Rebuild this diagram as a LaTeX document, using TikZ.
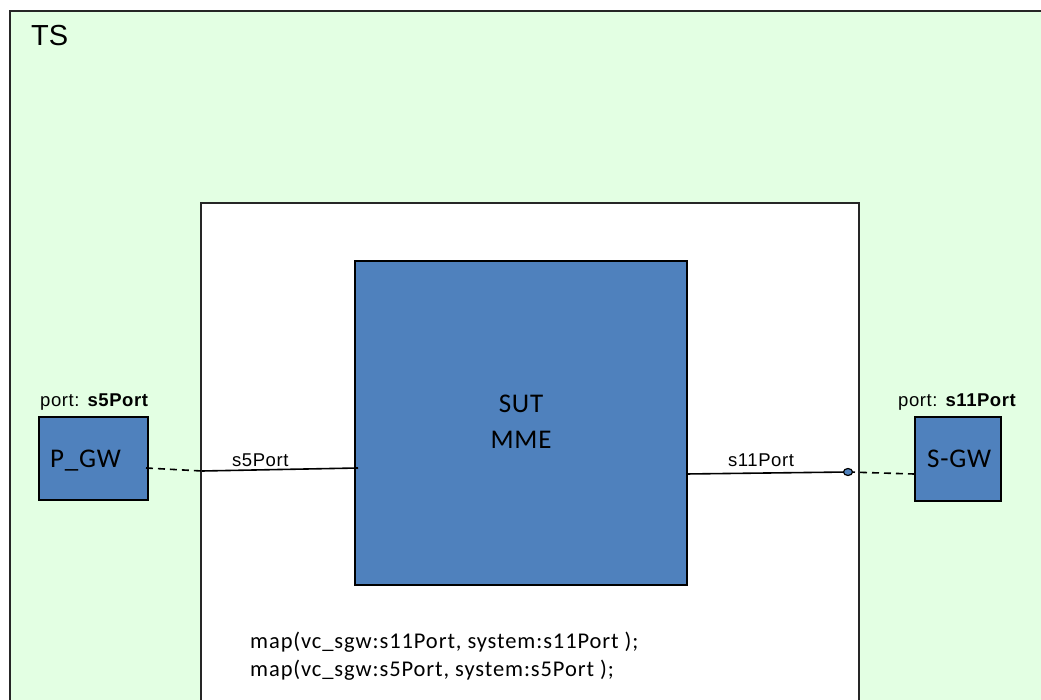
\documentclass[tikz,border=0pt]{standalone}
\usepackage{fontspec}
\setmainfont{Liberation Sans}
\newfontfamily\lblfont[LetterSpace=3]{Liberation Sans}
\newfontfamily\calfont[LetterSpace=3]{Carlito}
\newfontfamily\mapfont[LetterSpace=4]{Carlito}
\definecolor{tsgreen}{RGB}{227,255,227}
\definecolor{sutblue}{RGB}{79,129,189}
\begin{document}
\begin{tikzpicture}[x=1pt,y=1pt,
  frame/.style={draw=black!85, line width=1.8pt, inner sep=0pt, anchor=north west},
  bluebox/.style={draw=black, line width=2pt, fill=sutblue, inner sep=0pt, anchor=north west},
  lbl/.style={inner sep=0pt, anchor=base west, font=\lblfont\fontsize{18.5}{20}\selectfont},
  big/.style={inner sep=0pt, font=\calfont\fontsize{27}{36}\selectfont},
  conn/.style={line width=1.6pt},
  dconn/.style={line width=1.6pt, dash pattern=on 7pt off 5pt}]
\useasboundingbox (0,0) rectangle (1041,-700);
\clip (0,0) rectangle (1041,-700);
\node[frame, fill=tsgreen, minimum width=1080, minimum height=740] (ts) at (9,-10) {};
\node[inner sep=0pt, anchor=base west, font=\fontsize{29}{32}\selectfont] (tslabel) at (31,-46) {TS};
\node[frame, fill=white, minimum width=658, minimum height=600] (sys) at (200,-202) {};
\node[bluebox, minimum width=332, minimum height=324] (sut) at (354,-260) {};
\node[big, align=center] (suttext) at (521,-422) {SUT\\MME};
\node[bluebox, minimum width=109, minimum height=83] (pgw) at (38,-416) {};
\node[big, anchor=base west] (pgwtext) at (50,-467) {P\_GW};
\node[bluebox, minimum width=86, minimum height=84] (sgw) at (914,-416) {};
\node[big, anchor=base west] (sgwtext) at (927,-467) {S-GW};
\node[lbl] (pgwport) at (40,-406) {port: \textbf{s5Port}};
\node[lbl] (sgwport) at (898,-406) {port: \textbf{s11Port}};
\node[lbl] (s5lbl) at (232,-466) {s5Port};
\node[lbl] (s11lbl) at (728,-466) {s11Port};
\coordinate (pgwend) at (146,-468);
\coordinate (s5p) at (202,-471);
\coordinate (sut5) at (358,-468);
\coordinate (sut11) at (686,-474);
\coordinate (s11p) at (848,-472);
\coordinate (sgwend) at (914,-474);
\draw[dconn] (pgwend) -- (s5p);
\draw[conn] (s5p) -- (sut5);
\draw[conn] (sut11) -- (s11p);
\draw[dconn] (s11p) -- (sgwend);
\draw[line width=1.2pt, fill=sutblue] (s11p) ellipse [x radius=4.5, y radius=3.5];
\node[inner sep=0pt, anchor=base west, align=left, font=\mapfont\fontsize{22.5}{28}\selectfont] (maptext) at (250,-676) {map(vc\_sgw:s11Port, system:s11Port );\\map(vc\_sgw:s5Port, system:s5Port );};
\end{tikzpicture}
\end{document}
